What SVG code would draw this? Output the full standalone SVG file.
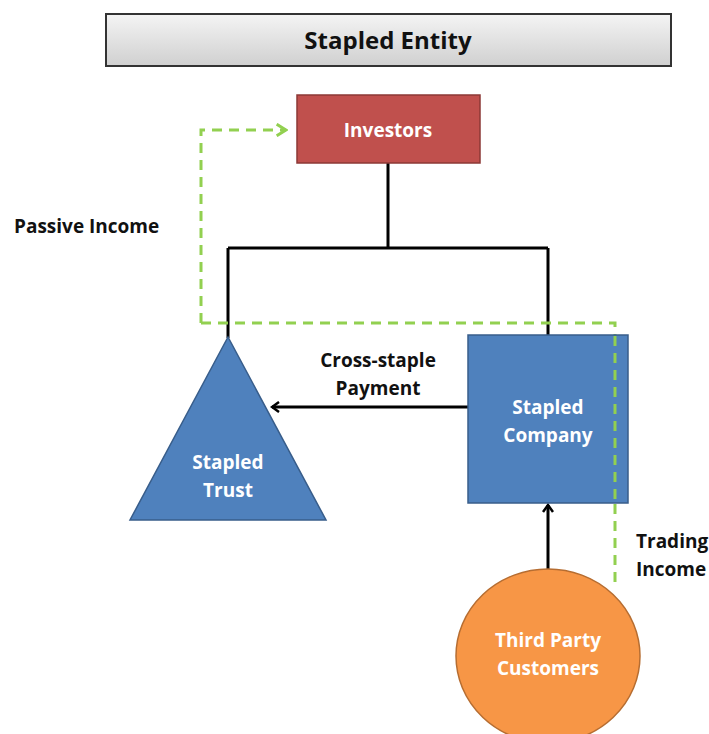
<svg xmlns="http://www.w3.org/2000/svg" width="709" height="734" viewBox="0 0 709 734">
<style>
text{font-family:"Open Sans","Liberation Sans",Arial,sans-serif;font-weight:bold;font-size:19px;text-anchor:middle}
.w{fill:#ffffff}
.k{fill:#111111}
.l{text-anchor:start}
.t{font-size:24px}
.blk{stroke:#000;stroke-width:3;fill:none}
.grn{stroke:#92d050;stroke-width:3;fill:none;stroke-dasharray:10,7}
</style>
<defs>
<linearGradient id="g" x1="0" y1="0" x2="0" y2="1">
<stop offset="0" stop-color="#f4f4f4"/><stop offset="1" stop-color="#d0d0d0"/>
</linearGradient>
<marker id="ab" viewBox="0 0 12 12" refX="10" refY="6" markerWidth="12" markerHeight="12" markerUnits="userSpaceOnUse" orient="auto">
<path d="M3,1 L10,6 L3,11" fill="none" stroke="#000" stroke-width="2.5"/>
</marker>
<marker id="ag" viewBox="0 0 12 12" refX="10" refY="6" markerWidth="14" markerHeight="14" markerUnits="userSpaceOnUse" orient="auto">
<path d="M2,1 L10,6 L2,11" fill="none" stroke="#92d050" stroke-width="2.5"/>
</marker>
</defs>
<g id="title">
<rect x="106" y="14" width="565" height="52" fill="url(#g)" stroke="#333" stroke-width="2"/>
<text x="388" y="49" class="k t">Stapled Entity</text>
</g>
<g id="connectors">
<path class="blk" d="M388,163 V248 M228,248 H548 M228,248 V338 M548,248 V335"/>
<path class="blk" d="M468,407 H272" marker-end="url(#ab)"/>
<path class="blk" d="M548,570 V505" marker-end="url(#ab)"/>
<path class="grn" d="M201,323 V130 H286" marker-end="url(#ag)"/>
<path class="grn" d="M201,323 H615 V588"/>
</g>
<g id="investors">
<rect x="297" y="95" width="183" height="68" fill="#c0504d" stroke="#8c3836" stroke-width="1.5"/>
<text x="388" y="137" class="w">Investors</text>
</g>
<g id="trust">
<polygon points="228,337 130,520 326,520" fill="#4f81bd" stroke="#385d8a" stroke-width="1.5"/>
<text x="228" y="469" class="w">Stapled</text>
<text x="228" y="497" class="w">Trust</text>
</g>
<g id="company">
<rect x="468" y="335" width="160" height="168" fill="#4f81bd" stroke="#385d8a" stroke-width="1.5"/>
<text x="548" y="414" class="w">Stapled</text>
<text x="548" y="442" class="w">Company</text>
</g>
<path class="grn" d="M615,336 V503"/>
<g id="customers">
<ellipse cx="548" cy="656" rx="92" ry="87" fill="#f79646" stroke="#b66d31" stroke-width="1.5"/>
<text x="548" y="647" class="w">Third Party</text>
<text x="548" y="675" class="w">Customers</text>
</g>
<g id="labels">
<text x="14" y="233" class="k l">Passive Income</text>
<text x="378" y="367" class="k">Cross-staple</text>
<text x="378" y="395" class="k">Payment</text>
<text x="636" y="548" class="k l">Trading</text>
<text x="636" y="576" class="k l">Income</text>
</g>
</svg>
